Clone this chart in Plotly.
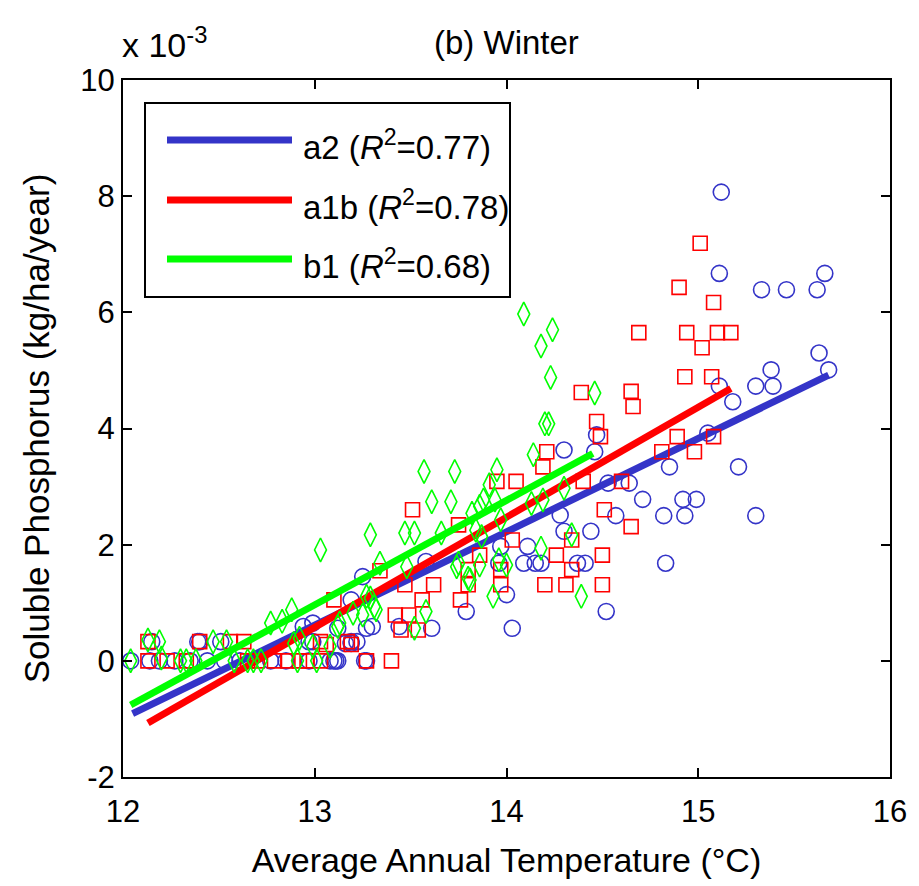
import plotly.graph_objects as go

# ---- data: winter soluble phosphorus vs. average annual temperature ----
# scenario a2 (circles)
a2_temp = [15.12, 15.11, 15.33, 15.46, 15.62, 15.66, 15.63, 15.68, 15.38, 15.30,
           15.39, 15.11, 15.18, 15.05, 14.85, 15.21, 14.53, 14.64, 14.71, 14.92,
           14.99, 14.57, 14.82, 14.93, 15.30, 14.83, 14.52, 14.47, 14.46, 14.30,
           14.28, 14.30, 14.44, 14.11, 14.09, 14.15, 14.18, 14.37, 14.41, 14.00,
           14.03, 13.97, 13.96, 13.79, 13.61, 13.58, 13.25, 13.19, 13.30, 13.44,
           12.99, 13.10, 13.12, 13.16, 13.19, 13.26, 12.94,
           12.04, 12.14, 12.19, 12.27, 12.35, 12.44, 12.53, 12.61, 12.77, 12.85,
           12.97, 13.08, 13.11, 13.27,
           12.15, 12.39, 12.40, 12.51, 12.97, 12.99, 13.19, 13.22,
           13.12, 13.27]
a2_p = [8.07, 6.67, 6.39, 6.39, 6.39, 6.67, 5.30, 5.01, 5.01, 4.73,
        4.73, 4.73, 4.46, 3.92, 3.34, 3.34, 3.06, 3.06, 2.78, 2.78,
        2.78, 2.50, 2.50, 2.50, 2.50, 1.68, 0.85, 3.89, 3.60, 3.63,
        2.51, 2.23, 2.23, 1.97, 1.68, 1.68, 1.68, 1.68, 1.68, 1.14,
        0.56, 1.97, 1.68, 0.85, 0.56, 1.71, 1.45, 1.05, 0.59, 0.59,
        0.65, 0.00, 0.00, 0.30, 0.30, 0.00, 0.59,
        0.00, 0.00, 0.00, 0.00, 0.00, 0.00, 0.00, 0.00, 0.00, 0.00,
        0.00, 0.00, 0.00, 0.00,
        0.33, 0.33, 0.33, 0.33, 0.33, 0.33, 0.33, 0.33,
        0.56, 0.56]

# scenario a1b (squares)
a1b_temp = [15.01, 14.90, 15.08, 14.69, 14.94, 15.10, 15.17, 15.02, 14.93, 15.07,
            14.65, 14.66, 14.89, 15.08, 14.81, 14.98, 14.60, 14.51, 14.65, 14.50,
            14.50, 14.39, 14.47, 14.49, 14.21, 14.19, 13.95, 14.05, 14.40, 13.51,
            13.75, 14.03, 14.34, 14.26, 13.86, 13.80, 13.97, 14.34, 13.62, 13.80,
            13.97, 14.20, 14.31, 13.76, 13.56, 13.47, 13.49, 13.54, 13.10, 13.42,
            13.45, 13.19, 13.06, 13.27, 13.40, 12.96, 13.34,
            12.13, 12.23, 12.33, 12.65, 12.70, 12.79, 12.86, 12.92, 13.03,
            12.13, 12.40, 12.56, 12.63, 13.03, 13.17]
a1b_p = [7.19, 6.43, 6.17, 5.65, 5.65, 5.65, 5.65, 5.39, 4.89, 4.89,
         4.64, 4.38, 3.86, 3.86, 3.60, 3.60, 3.09, 2.60, 2.31, 1.82,
         1.31, 4.62, 4.12, 3.86, 3.60, 3.34, 3.09, 3.09, 3.09, 2.60,
         2.34, 2.08, 2.08, 1.82, 1.82, 1.57, 1.57, 1.57, 1.31, 1.31,
         1.31, 1.31, 1.31, 1.05, 1.05, 1.31, 0.79, 0.53, 1.05, 0.79,
         0.53, 0.28, 0.28, 0.00, 0.00, 0.00, 1.55,
         0.00, 0.00, 0.00, 0.00, 0.00, 0.00, 0.00, 0.00, 0.00,
         0.33, 0.33, 0.33, 0.33, 0.33, 0.33]

# scenario b1 (diamonds)
b1_temp = [14.09, 14.24, 14.18, 14.23, 14.20, 14.22, 14.14, 13.57, 13.73, 13.95,
           13.61, 13.71, 13.91, 13.88, 14.30, 14.19, 14.46, 13.94, 13.86, 13.97,
           13.82, 14.13, 13.84, 13.87, 13.66, 13.47, 13.52, 14.34, 14.18, 13.75,
           13.80, 13.86, 13.96, 14.00, 13.93, 14.39, 13.58, 13.52, 13.48, 13.03,
           13.29, 13.34, 13.74, 13.27, 13.20, 13.32, 13.12, 12.99, 13.08, 13.01,
           13.81, 12.04, 12.13, 12.19, 12.20, 12.30, 12.33, 12.38, 12.47, 12.54,
           12.58, 12.65, 12.68, 12.72, 12.77, 12.83, 12.88, 12.89, 12.91, 12.92,
           13.13, 13.25, 13.29, 13.31]
b1_p = [5.97, 5.70, 5.42, 4.88, 4.08, 4.08, 3.55, 3.26, 3.26, 3.29,
        2.74, 2.74, 3.03, 2.77, 2.97, 2.77, 4.61, 2.77, 2.66, 2.43,
        2.54, 2.71, 2.25, 2.14, 2.20, 2.20, 2.20, 2.17, 1.94, 1.68,
        1.42, 1.65, 1.74, 1.65, 1.11, 1.11, 0.85, 0.56, 1.62, 1.91,
        2.17, 1.68, 1.62, 1.11, 0.82, 0.88, 0.59, 0.25, 0.25, 0.00,
        1.39, 0.00, 0.36, 0.33, 0.05, 0.00, 0.00, 0.00, 0.33, 0.33,
        0.00, 0.00, 0.00, 0.00, 0.65, 0.68, 0.88, 0.30, 0.00, 0.39,
        0.65, 0.79, 1.08, 0.93]

# linear fits (end points over each scenario's temperature span)
a2_fit_t, a2_fit_p = [12.05, 15.68], [-0.91, 4.92]
a1b_fit_t, a1b_fit_p = [12.13, 15.17], [-1.07, 4.69]
b1_fit_t, b1_fit_p = [12.04, 14.45], [-0.76, 3.57]

names = ["a2", "a1b", "b1"]
r2 = ["0.77", "0.78", "0.68"]

x_ticks = [12, 13, 14, 15, 16]
y_ticks = [-2, 0, 2, 4, 6, 8, 10]

BLUE = "#3434C8"
RED = "#FF0000"
GREEN = "#00FF00"
FONT = "Liberation Sans, Arial, sans-serif"

fig = go.Figure()

series = [
    (a2_temp, a2_p, a2_fit_t, a2_fit_p, BLUE, "circle-open", 16),
    (a1b_temp, a1b_p, a1b_fit_t, a1b_fit_p, RED, "square-open", 14),
    (b1_temp, b1_p, b1_fit_t, b1_fit_p, GREEN, "diamond-tall-open", 17),
]
for (t, p, ft, fp, col, sym, sz), nm in zip(series, names):
    fig.add_trace(go.Scatter(
        x=t, y=p, mode="markers", name=nm, showlegend=False,
        marker=dict(symbol=sym, size=sz, color=col, line=dict(width=1.6, color=col)),
    ))
    fig.add_trace(go.Scatter(
        x=ft, y=fp, mode="lines", name=nm, showlegend=False,
        line=dict(color=col, width=7),
    ))

# plot area in pixels
W, H = 919, 886
L, R, T, B = 123, 890, 80, 777


def px(x):
    return (x - L) / (R - L)


def py(y):
    return (B - y) / (B - T)


# legend box drawn by hand so the line samples are long
shapes = [dict(type="rect", xref="paper", yref="paper",
               x0=px(145), x1=px(510), y0=py(297), y1=py(103),
               line=dict(color="black", width=2), fillcolor="white", layer="above")]
annotations = []
rows = [140, 200, 259]
for nm, r, col, yy in zip(names, r2, [BLUE, RED, GREEN], rows):
    shapes.append(dict(type="line", xref="paper", yref="paper",
                       x0=px(167), x1=px(292), y0=py(yy), y1=py(yy),
                       line=dict(color=col, width=7), layer="above"))
    annotations.append(dict(
        xref="paper", yref="paper", x=px(301), y=py(yy + 5),
        xanchor="left", yanchor="middle", showarrow=False,
        text=f"{nm} (<i>R</i><sup>2</sup>=" + r + ")",
        font=dict(family=FONT, size=33, color="black"),
    ))

# title and exponent label
annotations.append(dict(xref="paper", yref="paper", x=0.5, y=py(42),
                        xanchor="center", yanchor="middle", showarrow=False,
                        text="(b) Winter", font=dict(family=FONT, size=33, color="black")))
annotations.append(dict(xref="paper", yref="paper", x=px(120), y=py(42),
                        xanchor="left", yanchor="middle", showarrow=False,
                        text="x 10<sup>-3</sup>", font=dict(family=FONT, size=34, color="black")))

axis_common = dict(
    showline=True, linecolor="black", linewidth=2, mirror="allticks",
    ticks="inside", ticklen=9, tickwidth=1.5, tickcolor="black",
    showgrid=False, zeroline=False,
    tickfont=dict(family=FONT, size=31, color="black"),
)

fig.update_layout(
    width=W, height=H,
    margin=dict(l=L, r=W - R, t=T, b=H - B),
    paper_bgcolor="white", plot_bgcolor="white",
    showlegend=False,
    xaxis=dict(range=[12, 16], tickmode="array", tickvals=x_ticks,
               ticktext=[str(v) for v in x_ticks], ticklabelstandoff=6,
               title=dict(text="Average Annual Temperature (°C)",
                          font=dict(family=FONT, size=34, color="black"), standoff=20),
               **axis_common),
    yaxis=dict(range=[-2, 10], tickmode="array", tickvals=y_ticks,
               ticktext=[str(v) for v in y_ticks],
               title=dict(text="Soluble Phosphorus (kg/ha/year)",
                          font=dict(family=FONT, size=35, color="black"), standoff=20),
               **axis_common),
    shapes=shapes,
    annotations=annotations,
)

fig.write_html("out.html")
